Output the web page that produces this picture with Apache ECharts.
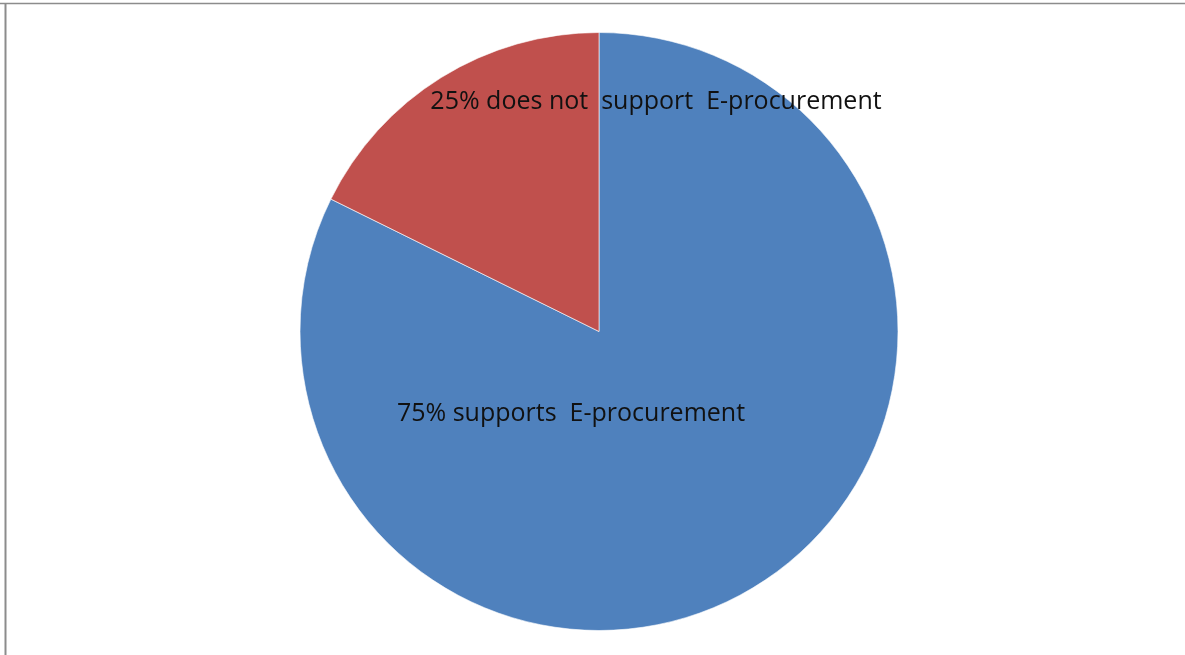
<!DOCTYPE html>
<html>
<head>
<meta charset="utf-8">
<script src="https://cdn.jsdelivr.net/npm/echarts@6/dist/echarts.min.js"></script>
<style>
html,body{margin:0;padding:0;background:#fff;}
#chart{width:1185px;height:655px;}
</style>
</head>
<body>
<div id="chart"></div>
<script>
var categories = ['supports E-procurement', 'does not support E-procurement'];
var values = [82.3, 17.7];
var labelTexts = ['75% supports  E-procurement', '25% does not  support  E-procurement'];
var colors = ['#4F81BD', '#C0504D'];

var chart = echarts.init(document.getElementById('chart'));
var font = '"Open Sans", "Noto Sans", sans-serif';
chart.setOption({
  animation: false,
  backgroundColor: '#fff',
  graphic: [
    {type: 'line', shape: {x1: 0, y1: 3.5, x2: 1185, y2: 3.5}, style: {stroke: '#8c8c8c', lineWidth: 1.5}, z: 10},
    {type: 'line', shape: {x1: 5.5, y1: 3, x2: 5.5, y2: 655}, style: {stroke: '#8c8c8c', lineWidth: 2}, z: 10},
    {type: 'text', style: {text: labelTexts[1], x: 656, y: 102, align: 'center', verticalAlign: 'middle', font: '25px ' + font, fill: '#111'}, z: 20},
    {type: 'text', style: {text: labelTexts[0], x: 571, y: 414, align: 'center', verticalAlign: 'middle', font: '25px ' + font, fill: '#111'}, z: 20}
  ],
  series: [{
    type: 'pie',
    center: [599, 331.5],
    radius: [0, 299],
    startAngle: 90,
    clockwise: true,
    label: {show: false},
    labelLine: {show: false},
    itemStyle: {borderColor: 'rgba(255,255,255,0.6)', borderWidth: 1},
    emphasis: {disabled: true},
    data: categories.map(function (c, i) {
      return {name: c, value: values[i], itemStyle: {color: colors[i]}};
    })
  }]
});
</script>
</body>
</html>
